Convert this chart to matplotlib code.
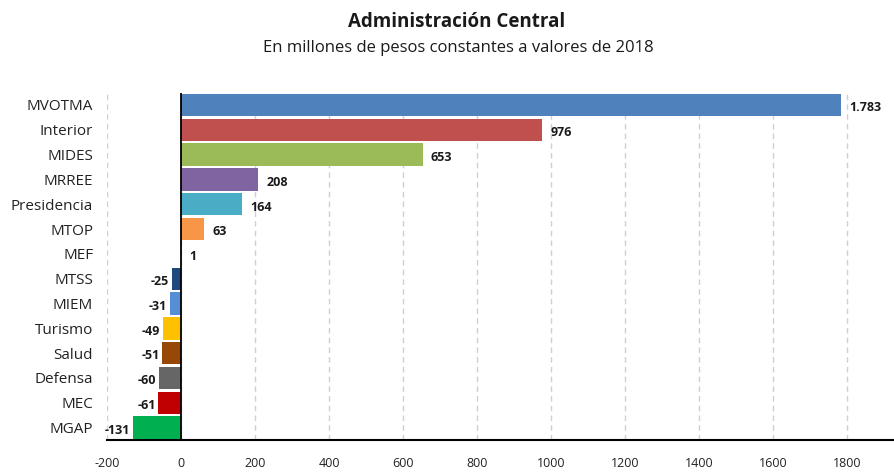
import numpy as np
from matplotlib import pyplot as plt

categories = ['MVOTMA', 'Interior', 'MIDES', 'MRREE', 'Presidencia', 'MTOP', 'MEF',
              'MTSS', 'MIEM', 'Turismo', 'Salud', 'Defensa', 'MEC', 'MGAP']
values = [1783, 976, 653, 208, 164, 63, 1, -25, -31, -49, -51, -60, -61, -131]
value_labels = ['1.783', '976', '653', '208', '164', '63', '1',
                '-25', '-31', '-49', '-51', '-60', '-61', '-131']
colors = ['#4F81BD', '#C0504D', '#9BBB59', '#8064A2', '#4BACC6', '#F79646', '#1F3864',
          '#1F497D', '#558ED5', '#FFC000', '#974706', '#666666', '#C00000', '#00B050']
x_ticks = [-200, 0, 200, 400, 600, 800, 1000, 1200, 1400, 1600, 1800]

plt.rcParams['font.family'] = ['Open Sans', 'DejaVu Sans']
plt.rcParams['axes.unicode_minus'] = False

fig = plt.figure(figsize=(8.95, 4.74), dpi=100)
ax = fig.add_axes([0.1196, 0.0717, 0.8804, 0.7330])

y = np.arange(len(categories))
ax.barh(y, values, height=0.9, color=colors, zorder=3)

for yi, v, lab in zip(y, values, value_labels):
    if v >= 0:
        ax.annotate(lab, (v, yi), xytext=(6, -2), textcoords='offset points',
                    ha='left', va='center', fontsize=9, fontweight='bold', color='#1a1a1a')
    else:
        ax.annotate(lab, (v, yi), xytext=(-2, -2), textcoords='offset points',
                    ha='right', va='center', fontsize=9, fontweight='bold', color='#1a1a1a')

ax.set_ylim(len(categories) - 0.5, -0.5)
ax.set_xlim(-200, 1930)
ax.set_xticks(x_ticks)
ax.set_yticks(y)
ax.set_yticklabels(categories, fontsize=11, color='#222222')
ax.tick_params(axis='y', length=0, pad=10)
ax.tick_params(axis='x', length=0, pad=12, labelsize=9, colors='#222222')

ax.grid(axis='x', linestyle=(0, (4, 3)), color='#d0d0d0', linewidth=1, zorder=0)
ax.axvline(0, color='black', linewidth=1.3, zorder=4)

for side in ['top', 'right', 'left']:
    ax.spines[side].set_visible(False)
ax.spines['bottom'].set_linewidth(1.5)
ax.spines['bottom'].set_color('black')

fig.text(0.51, 0.953, 'Administración Central', ha='center', va='center',
         fontsize=13.5, fontweight='bold', color='#1a1a1a')
fig.text(0.512, 0.898, 'En millones de pesos constantes a valores de 2018', ha='center',
         va='center', fontsize=12, color='#1a1a1a')

fig.savefig('out.png', dpi=100)
